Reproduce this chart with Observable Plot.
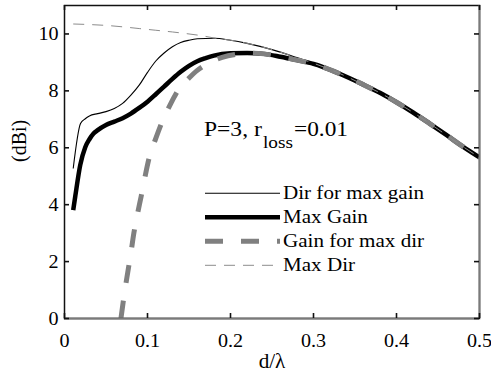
<!DOCTYPE html>
<html><head><meta charset="utf-8">
<script src="https://cdn.jsdelivr.net/npm/d3@7"></script>
<script src="https://cdn.jsdelivr.net/npm/@observablehq/plot@0.6"></script>
<style>
html,body{margin:0;padding:0;background:#fff;}
#chart{width:491px;height:381px;overflow:hidden;}
#chart svg text, #chart svg tspan{font-family:"Liberation Serif","DejaVu Serif",serif !important;}
</style></head><body><div id="chart"></div>
<script>
// ---- data ----
const xTicks = [0, 0.1, 0.2, 0.3, 0.4, 0.5];
const yTicks = [0, 2, 4, 6, 8, 10];
const seriesNames = ["Dir for max gain", "Max Gain", "Gain for max dir", "Max Dir"];
const xLabel = "d/\u03bb";
const yLabel = "(dBi)";

const dirForMaxGainX = [0.0105, 0.0193, 0.025, 0.03, 0.04, 0.05, 0.06, 0.07, 0.08, 0.09, 0.10, 0.11, 0.12, 0.13, 0.14, 0.15, 0.16, 0.18, 0.20, 0.22, 0.25, 0.28, 0.30, 0.33, 0.36, 0.38, 0.40, 0.42, 0.44, 0.46, 0.48, 0.50];
const dirForMaxGainY = [5.27, 6.85, 7.02, 7.12, 7.2, 7.27, 7.38, 7.56, 7.85, 8.2, 8.65, 9.05, 9.33, 9.55, 9.7, 9.78, 9.83, 9.85, 9.78, 9.67, 9.45, 9.17, 8.97, 8.63, 8.22, 7.93, 7.6, 7.24, 6.85, 6.45, 6.04, 5.66];

const maxGainX = [0.0105, 0.013, 0.019, 0.025, 0.03, 0.035, 0.04, 0.05, 0.06, 0.07, 0.08, 0.09, 0.10, 0.11, 0.12, 0.13, 0.14, 0.15, 0.16, 0.17, 0.18, 0.20, 0.22, 0.24, 0.26, 0.28, 0.30, 0.33, 0.36, 0.38, 0.40, 0.42, 0.44, 0.46, 0.48, 0.50];
const maxGainY = [3.81, 4.3, 5.4, 6.02, 6.3, 6.5, 6.62, 6.8, 6.92, 7.04, 7.2, 7.4, 7.62, 7.88, 8.15, 8.42, 8.67, 8.88, 9.04, 9.15, 9.24, 9.32, 9.33, 9.3, 9.2, 9.08, 8.95, 8.62, 8.22, 7.93, 7.6, 7.24, 6.85, 6.45, 6.04, 5.66];

const gainForMaxDirX = [0.068, 0.072, 0.0763, 0.08, 0.0835, 0.088, 0.0924, 0.097, 0.1016, 0.11, 0.1177, 0.128, 0.138, 0.15, 0.16, 0.172, 0.19, 0.21, 0.22, 0.24, 0.26, 0.28, 0.30, 0.33, 0.36, 0.38, 0.40, 0.42, 0.44, 0.46, 0.48, 0.50];
const gainForMaxDirY = [0, 0.85, 1.64, 2.3, 2.99, 3.68, 4.3, 4.98, 5.6, 6.33, 6.92, 7.55, 8.07, 8.45, 8.72, 8.95, 9.18, 9.3, 9.33, 9.3, 9.2, 9.08, 8.95, 8.62, 8.22, 7.93, 7.6, 7.24, 6.85, 6.45, 6.04, 5.66];

const maxDirX = [0.0105, 0.03, 0.05, 0.07, 0.09, 0.11, 0.13, 0.15, 0.165, 0.18, 0.19, 0.20, 0.22, 0.25, 0.28, 0.30, 0.33, 0.36, 0.38, 0.40, 0.42, 0.44, 0.46, 0.48, 0.50];
const maxDirY = [10.35, 10.33, 10.3, 10.25, 10.19, 10.13, 10.07, 10.0, 9.94, 9.86, 9.82, 9.78, 9.67, 9.45, 9.17, 8.97, 8.63, 8.22, 7.93, 7.6, 7.24, 6.85, 6.45, 6.04, 5.66];

// annotation pieces: text, pixel offset from anchor, width, font size, baseline shift
const annotationPieces = [
  {text: "P=3,", dx: 0, w: 44, size: 20, dy: 0},
  {text: "r", dx: 50, w: 8, size: 20, dy: 0},
  {text: "loss", dx: 59, w: 30, size: 16, dy: 12},
  {text: "=0.01", dx: 90, w: 54, size: 20, dy: 0}
];
const annotationAt = {x: 0.1687, y: 6.38};

// ---- styles ----
const STRETCH = 1.06;
const styles = [
  {stroke: "#000", strokeWidth: 1.1, dash: null},
  {stroke: "#000", strokeWidth: 4.5, dash: null},
  {stroke: "#808080", strokeWidth: 5, dash: "18,18"},
  {stroke: "#8c8c8c", strokeWidth: 1, dash: "11,8"}
];

const mk = (xs, ys) => xs.map((x, i) => ({x, y: ys[i]}));
const series = [
  mk(dirForMaxGainX, dirForMaxGainY),
  mk(maxGainX, maxGainY),
  mk(gainForMaxDirX, gainForMaxDirY),
  mk(maxDirX, maxDirY)
];

const W = 491, H = 381, ML = 64, MR = 12, MT = 5, MB = 63;
const FW = W - ML - MR, FH = H - MT - MB, TL = 5;

const plot = Plot.plot({
  width: W, height: H,
  marginLeft: ML, marginRight: MR, marginTop: MT, marginBottom: MB,
  style: {background: "#fff", color: "#000", overflow: "visible"},
  x: {domain: [0, 0.5]},
  y: {domain: [0, 11]},
  marks: [
    ...series.map((d, i) => Plot.line(d, {
      x: "x", y: "y", stroke: styles[i].stroke, strokeWidth: styles[i].strokeWidth,
      strokeDasharray: styles[i].dash, strokeLinecap: "butt", strokeLinejoin: "round",
      curve: "monotone-x", clip: true
    })),
    Plot.frame({stroke: "#111", strokeWidth: 1.5}),
    Plot.ruleY([0], {stroke: "#7a7a7a", strokeWidth: 1.8}),
    Plot.ruleX([0.5], {stroke: "#7a7a7a", strokeWidth: 1.8}),
    Plot.tickX(xTicks, {x: d => d, insetTop: FH - TL, stroke: "#111", strokeWidth: 1.6}),
    Plot.tickX(xTicks, {x: d => d, insetBottom: FH - TL, stroke: "#111", strokeWidth: 1.6}),
    Plot.tickY(yTicks, {y: d => d, insetRight: FW - TL, stroke: "#111", strokeWidth: 1.6}),
    Plot.tickY(yTicks, {y: d => d, insetLeft: FW - TL, stroke: "#111", strokeWidth: 1.6}),
    Plot.axisX(xTicks, {anchor: "bottom", tickSize: 0, tickPadding: 15, fontSize: 19, tickFormat: d => String(d), label: null}),
    Plot.axisY(yTicks, {anchor: "left", tickSize: 0, tickPadding: 6, fontSize: 19, tickFormat: d => String(d), label: null}),
    Plot.text([xLabel], {frameAnchor: "bottom", dy: 49, fontSize: 20, text: d => d}),
    Plot.text([yLabel], {frameAnchor: "left", dx: -44.5, rotate: -90, fontSize: 20, text: d => d})
  ]
});

const svg = d3.select(plot);
// slight horizontal stretch of non-rotated texts, like the reference's wide lettering
svg.selectAll("text").each(function() {
  const t = d3.select(this);
  const tr = t.attr("transform") || "";
  if (tr.includes("rotate")) return;
  t.attr("transform", (tr + ` scale(${STRETCH},1)`).trim());
});

const sx = plot.scale("x"), sy = plot.scale("y");

// annotation "P=3, r_loss=0.01"
const ax = sx.apply(annotationAt.x), ay = sy.apply(annotationAt.y);
const ann = svg.append("g").attr("fill", "#000").attr("text-anchor", "start");
annotationPieces.forEach(p => {
  ann.append("text")
    .attr("x", ax + p.dx).attr("y", ay + p.dy)
    .attr("font-size", p.size)
    .attr("textLength", p.w).attr("lengthAdjust", "spacingAndGlyphs")
    .text(p.text);
});

// legend
const leg = svg.append("g").attr("font-size", 18.5).attr("text-anchor", "start");
seriesNames.forEach((name, i) => {
  const y = 193.3 + i * 24;
  leg.append("line").attr("x1", 205).attr("x2", 280).attr("y1", y).attr("y2", y)
    .attr("stroke", styles[i].stroke).attr("stroke-width", styles[i].strokeWidth)
    .attr("stroke-dasharray", styles[i].dash).attr("stroke-linecap", "butt");
  leg.append("text").attr("transform", `translate(283,${y}) scale(1.14,1)`)
    .attr("dy", "0.33em").attr("fill", "#000").text(name);
});

document.getElementById("chart").appendChild(plot);
</script>
</body></html>
